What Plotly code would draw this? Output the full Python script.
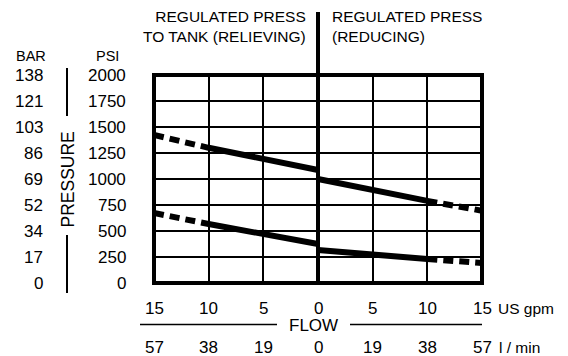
import plotly.graph_objects as go

# ---- data ----
relieving_flow = [-15, -10, -5, 0]
relieving_high = [1423, 1300, 1190, 1087]
relieving_low = [673, 567, 465, 375]

reducing_flow = [0, 5, 10, 15]
reducing_high = [1000, 890, 790, 695]
reducing_low = [317, 270, 231, 192]

psi_ticks = [0, 250, 500, 750, 1000, 1250, 1500, 1750, 2000]
psi_labels = ["0", "250", "500", "750", "1000", "1250", "1500", "1750", "2000"]
bar_labels = ["0", "17", "34", "52", "69", "86", "103", "121", "138"]
gpm_ticks = [-15, -10, -5, 0, 5, 10, 15]
gpm_labels = ["15", "10", "5", "0", "5", "10", "15"]
lmin_labels = ["57", "38", "19", "0", "19", "38", "57"]

FONT = "Liberation Sans, Arial, Helvetica, sans-serif"
FS_NUM = 17
FS_TXT = 15.5
OFF = 8  # page body margin
W, H = 568 - OFF, 356 - OFF
# plot box in reference pixel coords
BX0, BX1, BY0, BY1 = 154, 482, 75, 283
L, T = BX0 - OFF, BY0 - OFF
R, B = W - (BX1 - OFF), H - (BY1 - OFF)
PW, PH = BX1 - BX0, BY1 - BY0


def px(xp):
    return (xp - BX0) / PW


def py(yp):
    return (BY1 - yp) / PH


fig = go.Figure()

LW = 6
dash = "10px,6px"


def add_line(x, y, dashed):
    fig.add_trace(go.Scatter(x=x, y=y, mode="lines",
                             line=dict(color="black", width=LW, dash=dash if dashed else "solid"),
                             hoverinfo="skip", showlegend=False))


# relieving side: dashed from -15 to -10, solid beyond
add_line(relieving_flow[:2], relieving_high[:2], True)
add_line(relieving_flow[1:], relieving_high[1:], False)
add_line(relieving_flow[:2], relieving_low[:2], True)
add_line(relieving_flow[1:], relieving_low[1:], False)
# reducing side: solid to 10, dashed from 10 to 15
add_line(reducing_flow[:3], reducing_high[:3], False)
add_line(reducing_flow[2:], reducing_high[2:], True)
add_line(reducing_flow[:3], reducing_low[:3], False)
add_line(reducing_flow[2:], reducing_low[2:], True)

shapes = [
    dict(type="rect", xref="paper", yref="paper", x0=0, x1=1, y0=0, y1=1,
         line=dict(color="black", width=4), layer="above"),
    dict(type="line", xref="x", yref="paper", x0=0, x1=0, y0=0, y1=py(12),
         line=dict(color="black", width=4), layer="above"),
    # PRESSURE bars
    dict(type="line", xref="paper", yref="paper", x0=px(67), x1=px(67), y0=py(68), y1=py(116),
         line=dict(color="black", width=2)),
    dict(type="line", xref="paper", yref="paper", x0=px(67), x1=px(67), y0=py(235), y1=py(293),
         line=dict(color="black", width=2)),
    # FLOW bars
    dict(type="line", xref="paper", yref="paper", x0=px(140), x1=px(277), y0=py(324.5), y1=py(324.5),
         line=dict(color="black", width=1.5)),
    dict(type="line", xref="paper", yref="paper", x0=px(350), x1=px(482), y0=py(324.5), y1=py(324.5),
         line=dict(color="black", width=1.5)),
]

txt = dict(size=FS_TXT)
num = dict(size=FS_NUM)
annotations = [
    dict(text="REGULATED PRESS<br>TO TANK (RELIEVING)", xref="paper", yref="paper",
         x=px(308), y=py(27), xanchor="right", yanchor="middle", align="right",
         showarrow=False, font=txt),
    dict(text="REGULATED PRESS<br>(REDUCING)", xref="paper", yref="paper",
         x=px(330), y=py(27), xanchor="left", yanchor="middle", align="left",
         showarrow=False, font=txt),
    dict(text="BAR", xref="paper", yref="paper", x=px(31), y=py(56), xanchor="center",
         yanchor="middle", showarrow=False, font=dict(size=14.5)),
    dict(text="PSI", xref="paper", yref="paper", x=px(107), y=py(56), xanchor="center",
         yanchor="middle", showarrow=False, font=dict(size=14.5)),
    dict(text="PRESSURE", xref="paper", yref="paper", x=px(67.5), y=py(180), textangle=-90,
         xanchor="center", yanchor="middle", showarrow=False, font=dict(size=17.5)),
    dict(text="FLOW", xref="paper", yref="paper", x=px(313), y=py(325.5), xanchor="center",
         yanchor="middle", showarrow=False, font=num),
    dict(text="US gpm", xref="paper", yref="paper", x=px(496), y=py(308), xanchor="left",
         yanchor="middle", showarrow=False, font=txt),
    dict(text="l / min", xref="paper", yref="paper", x=px(497), y=py(347), xanchor="left",
         yanchor="middle", showarrow=False, font=txt),
]
for v, lab in zip(psi_ticks, bar_labels):
    annotations.append(dict(text=lab, xref="paper", yref="y", x=px(45), y=v,
                            xanchor="right", yanchor="middle", showarrow=False, font=num))
for v, lab in zip(psi_ticks, psi_labels):
    annotations.append(dict(text=lab, xref="paper", yref="y", x=px(128), y=v,
                            xanchor="right", yanchor="middle", showarrow=False, font=num))
for v, lab in zip(gpm_ticks, gpm_labels):
    annotations.append(dict(text=lab, xref="x", yref="paper", x=v, y=py(308),
                            xanchor="center", yanchor="middle", showarrow=False, font=num))
for v, lab in zip(gpm_ticks, lmin_labels):
    annotations.append(dict(text=lab, xref="x", yref="paper", x=v, y=py(347),
                            xanchor="center", yanchor="middle", showarrow=False, font=num))

fig.update_layout(
    width=W, height=H, autosize=False,
    margin=dict(l=L, r=R, t=T, b=B, pad=0),
    paper_bgcolor="white", plot_bgcolor="white",
    font=dict(family=FONT, size=FS_TXT, color="black"),
    shapes=shapes, annotations=annotations, showlegend=False,
    xaxis=dict(range=[-15, 15], tickvals=gpm_ticks, showticklabels=False,
               showgrid=True, gridcolor="black", gridwidth=2, zeroline=False,
               showline=False, ticks="", fixedrange=True),
    yaxis=dict(range=[0, 2000], tickvals=psi_ticks, showticklabels=False,
               showgrid=True, gridcolor="black", gridwidth=2, zeroline=False,
               showline=False, ticks="", fixedrange=True),
)

fig.write_html("out.html")
